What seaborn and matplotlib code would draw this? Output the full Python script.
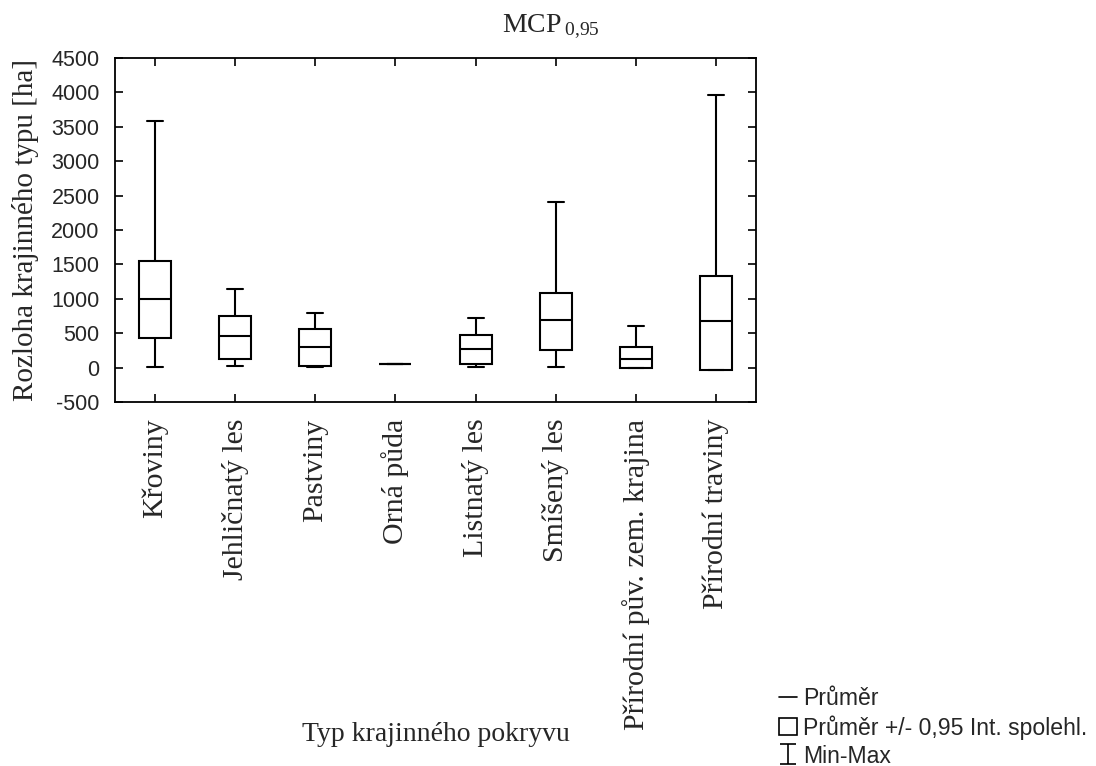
import matplotlib
matplotlib.use("Agg")
import matplotlib.pyplot as plt
from matplotlib.lines import Line2D
from matplotlib.patches import Patch
from matplotlib.path import Path
import numpy as np
import pandas as pd
import seaborn as sns

# ---- data ----
categories = ["Křoviny", "Jehličnatý les", "Pastviny", "Orná půda", "Listnatý les",
              "Smíšený les", "Přírodní pův. zem. krajina", "Přírodní traviny"]
mins    = [15,   30,  10, 58,  10,   10,  0,   -30]
ci_low  = [430, 131,  19, 58,  58,  262,  0,   -30]
means   = [990, 455, 295, 58, 266,  698, 131,  673]
ci_high = [1550, 746, 561, 58, 480, 1090, 295, 1337]
maxs    = [3590, 1148, 794, 58, 727, 2400, 610, 3960]
y_ticks = list(range(-500, 4501, 500))

title = "MCP"
title_sub = "0{,}95"
xlabel = "Typ krajinného pokryvu"
ylabel = "Rozloha krajinného typu [ha]"
legend_labels = ["Průměr", "Průměr +/- 0,95 Int. spolehl.", "Min-Max"]

# long-form table: 5 values per category so that quartiles = CI bounds, median = mean
rows = []
for c, a, b, m, d, e in zip(categories, mins, ci_low, means, ci_high, maxs):
    for v in (a, b, m, d, e):
        rows.append({"cat": c, "val": v})
df = pd.DataFrame(rows)

sns.set_theme(style="white")
plt.rcParams["font.family"] = ["Liberation Serif", "DejaVu Serif"]
plt.rcParams["mathtext.fontset"] = "custom"
plt.rcParams["mathtext.rm"] = "Liberation Serif"
plt.rcParams["mathtext.it"] = "Liberation Serif"

fig = plt.figure(figsize=(10.96, 7.66), dpi=100)
fig.patch.set_facecolor("white")
ax = fig.add_axes([0.10493, 0.47520, 0.58485, 0.44908])

sns.boxplot(data=df, x="cat", y="val", order=categories, whis=(0, 100),
            width=0.4, color="white", linecolor="black", linewidth=1.5,
            showfliers=False, ax=ax,
            medianprops={"color": "black", "linewidth": 1.5},
            boxprops={"facecolor": "white", "edgecolor": "black", "linewidth": 1.5})

ax.set_xlim(-0.5, len(categories) - 0.5)
ax.set_ylim(-500, 4500)
ax.set_yticks(y_ticks)
ax.set_yticklabels([str(t) for t in y_ticks], fontfamily="Liberation Sans", fontsize=15.5)
ax.set_xticks(range(len(categories)))
ax.set_xticklabels(categories, rotation=90, fontsize=21.5, va="top", ha="center")
ax.tick_params(axis="both", direction="in", length=6, width=1.2, color="black",
               top=True, right=True, bottom=True, left=True)
ax.tick_params(axis="x", pad=12)
ax.tick_params(axis="y", pad=11)
for s in ax.spines.values():
    s.set_visible(True)
    s.set_color("black")
    s.set_linewidth(1.3)
ax.set_facecolor("white")
ax.grid(False)

ax.set_xlabel(xlabel, fontsize=20)
ax.xaxis.set_label_coords(0.5, -0.93)
ax.set_ylabel(ylabel, fontsize=21)
ax.yaxis.set_label_coords(-0.118, 0.5)

fig.text(0.503, 1 - 32 / 766, title + r"$\,_{\mathrm{" + title_sub + r"}}$",
         ha="center", va="baseline", fontsize=20)

# legend
ibeam = Path([(-0.4, 0.5), (0.4, 0.5), (0, 0.5), (0, -0.5), (-0.4, -0.5), (0.4, -0.5)],
             [Path.MOVETO, Path.LINETO, Path.MOVETO, Path.LINETO, Path.MOVETO, Path.LINETO])
handles = [Line2D([], [], color="black", linewidth=1.2),
           Patch(facecolor="white", edgecolor="black", linewidth=1.2),
           Line2D([], [], linestyle="none", marker=ibeam, markersize=14,
                  markerfacecolor="none", markeredgecolor="black", markeredgewidth=1.2)]
fig.legend(handles, legend_labels, loc="upper left",
           bbox_to_anchor=(779 / 1096, 1 - 687 / 766), frameon=False,
           borderpad=0, borderaxespad=0, handlelength=0.8, handleheight=0.8,
           handletextpad=0.25, labelspacing=0.22,
           prop={"family": "Liberation Sans", "size": 16.6})

fig.savefig("out.png", dpi=100, facecolor="white")
